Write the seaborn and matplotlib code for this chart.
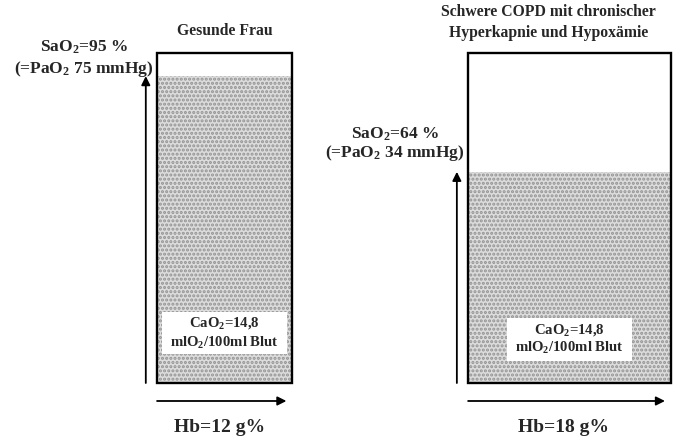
import matplotlib
matplotlib.use("Agg")
import matplotlib.pyplot as plt
from matplotlib.patches import Rectangle
import seaborn as sns

# ---- data ----
groups = ["Gesunde Frau", "Schwere COPD mit chronischer\nHyperkapnie und Hypoxämie"]
hb = [12, 18]                 # g%  (box width)
sao2 = [95, 64]               # %
pao2 = [75, 34]               # mmHg
cao2 = ["14,8", "14,8"]       # mlO2/100ml Blut
fill_level = [93, 64]         # drawn fill height (% of box)

# ---- layout / style ----
x_start = [0.0, 27.65]
title_shift = [0.0, -1.85]
title_y = [104.3, 103.7]
hb_shift = [-0.4, -0.5]
label_offset = [-0.9, 2.8]
label_spacing = [1.2, 0.95]
cao2_y = [15.2, 13.2]
cao2_spacing = [1.3, 1.15]

sns.set_theme(style="white")
plt.rcParams["font.family"] = ["Liberation Serif", "DejaVu Serif"]
plt.rcParams["font.weight"] = "bold"
plt.rcParams["mathtext.fontset"] = "custom"
plt.rcParams["mathtext.rm"] = "Liberation Serif:bold"
plt.rcParams["mathtext.it"] = "Liberation Serif:bold"
plt.rcParams["mathtext.bf"] = "Liberation Serif:bold"
plt.rcParams["hatch.linewidth"] = 1.5

fig = plt.figure(figsize=(6.76, 4.37), dpi=100)
ax = fig.add_axes([0, 0, 1, 1])
ax.set_xlim(-13.96, 46.13)
ax.set_ylim(-16.36, 116.06)
ax.axis("off")

for i in range(len(groups)):
    x0, w, lvl = x_start[i], hb[i], fill_level[i]
    # stippled fill
    ax.bar(x0, lvl, width=w, align="edge", color="#dcdcdc",
           edgecolor="#939393", hatch="....", linewidth=0)
    # box outline
    ax.bar(x0, 100, width=w, align="edge", fill=False,
           edgecolor="black", linewidth=1.7, zorder=3)
    # vertical arrow (SaO2)
    ax.annotate("", xy=(x0 - 1.0, lvl), xytext=(x0 - 1.0, 0),
                arrowprops=dict(arrowstyle="-|>", color="black", lw=1.3,
                                mutation_scale=13, shrinkA=0, shrinkB=0))
    # horizontal arrow (Hb)
    ax.annotate("", xy=(x0 + w - 0.5, -5.45), xytext=(x0, -5.45),
                arrowprops=dict(arrowstyle="-|>", color="black", lw=1.3,
                                mutation_scale=13, shrinkA=0, shrinkB=0))
    ax.text(x0 + w / 2 + hb_shift[i], -13.6, f"Hb={hb[i]} g%",
            ha="center", va="center", fontsize=14, fontweight="bold")
    ax.text(x0 + w / 2 + title_shift[i], title_y[i], groups[i],
            ha="center", va="bottom", fontsize=11.3, fontweight="bold",
            linespacing=1.4)
    ax.text(x0 - 6.5, lvl + label_offset[i],
            f"SaO$_2$={sao2[i]} %\n(=PaO$_2$ {pao2[i]} mmHg)",
            ha="center", va="bottom", fontsize=12.5, fontweight="bold",
            linespacing=label_spacing[i])
    # white label panel inside the fill
    ax.add_patch(Rectangle((x0 + w / 2 - 5.57, cao2_y[i] - 6.45), 11.15, 12.9,
                           facecolor="white", edgecolor="none", zorder=2))
    ax.text(x0 + w / 2, cao2_y[i],
            f"CaO$_2$={cao2[i]}\nmlO$_2$/100ml Blut",
            ha="center", va="center", fontsize=10.6, fontweight="bold",
            linespacing=cao2_spacing[i], zorder=4)

fig.savefig("out.png", dpi=100, facecolor="white")
